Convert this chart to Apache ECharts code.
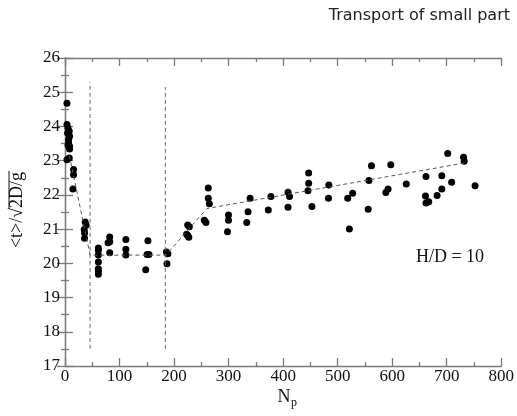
<!DOCTYPE html>
<html>
<head>
<meta charset="utf-8">
<script src="https://cdn.jsdelivr.net/npm/echarts@6/dist/echarts.min.js"></script>
<style>html,body{margin:0;padding:0;background:#fff}#c{width:517px;height:416px}</style>
</head>
<body>
<div id="c"></div>
<script>
// ---- data ----
const titleText = 'Transport of small part';
const annotation = 'H/D = 10';
const xTicks = [0, 100, 200, 300, 400, 500, 600, 700, 800];
const yTicks = [17, 18, 19, 20, 21, 22, 23, 24, 25, 26];
const pointsX = [
  3.6, 3.6, 7.8, 4.7, 8.4, 6.6, 6.6, 8.4, 8.4, 3.6, 7.8, 5.5, 5.5, 15.7, 15.7, 14.5,
  37, 38.8, 35.2, 36, 35.8,
  61.2, 61.2, 61.2, 61.2, 61.2, 61.2, 61.2,
  82, 79, 82, 82,
  111.6, 111.6, 111.6,
  152, 150.5, 154, 148,
  186, 188.7, 187,
  225, 228, 223, 225, 227,
  262.8, 262.8, 264.7, 255.5, 258.5,
  299.8, 299.8, 298,
  339.4, 335.7, 333.3,
  377.6, 372.8,
  409, 411.7, 409,
  446.8, 446.8, 445.5, 452.8,
  483.8, 483.2,
  518.4, 527.5, 521.5,
  562, 557.4, 556,
  597.4, 592.5, 588.3,
  625.8,
  662, 661, 662, 667, 682.3,
  691, 691, 701.8, 709,
  730.9, 732, 752
];
const pointsY = [
  24.68, 24.06, 23.86, 23.81, 23.71, 23.62, 23.52, 23.42, 23.34, 23.03, 23.08, 23.95, 23.45, 22.74, 22.59, 22.17,
  21.21, 21.12, 20.99, 20.89, 20.73,
  20.45, 20.38, 20.24, 20.04, 19.84, 19.77, 19.68,
  20.77, 20.60, 20.63, 20.31,
  20.70, 20.41, 20.24,
  20.66, 20.26, 20.26, 19.81,
  20.33, 20.28, 19.99,
  21.12, 21.07, 20.85, 20.82, 20.76,
  22.20, 21.90, 21.74, 21.26, 21.19,
  21.41, 21.26, 20.92,
  21.90, 21.51, 21.19,
  21.95, 21.56,
  22.08, 21.95, 21.64,
  22.64, 22.34, 22.12, 21.66,
  22.29, 21.90,
  21.90, 22.05, 21.00,
  22.85, 22.42, 21.58,
  22.88, 22.17, 22.07,
  22.32,
  22.54, 21.97, 21.76, 21.80, 21.98,
  22.56, 22.17, 23.21, 22.37,
  23.10, 22.98, 22.27
];
const trendX = [8, 46, 185, 260, 732];
const trendY = [23.15, 20.24, 20.24, 21.6, 22.93];
const vline1X = [46, 46];
const vline1Y = [17.5, 25.3];
const vline2X = [184, 184];
const vline2Y = [17.5, 25.15];

// ---- chart ----
const zip = (a, b) => a.map((v, i) => [v, b[i]]);
const serif = 'Liberation Serif';
const frame = '#7a7a7a';
const chart = echarts.init(document.getElementById('c'), null, {renderer: 'canvas'});

const baseX = {
  type: 'value', min: xTicks[0], max: xTicks[xTicks.length - 1], interval: 100,
  axisLine: {show: true, lineStyle: {color: frame, width: 1.3}},
  axisTick: {show: true, inside: true, length: 8, lineStyle: {color: frame, width: 1.3}},
  minorTick: {show: true, splitNumber: 2, length: 4, lineStyle: {color: frame, width: 1.3}},
  splitLine: {show: false}
};
const baseY = {
  type: 'value', min: yTicks[0], max: yTicks[yTicks.length - 1], interval: 1,
  axisLine: {show: true, lineStyle: {color: frame, width: 1.3}},
  axisTick: {show: true, inside: true, length: 8, lineStyle: {color: frame, width: 1.3}},
  minorTick: {show: true, splitNumber: 2, length: 4, lineStyle: {color: frame, width: 1.3}},
  splitLine: {show: false}
};

// measure y-label pieces
const ctx = document.createElement('canvas').getContext('2d');
const yFont = '18px "Liberation Serif"';
ctx.font = yFont;
const partA = '<t>/\u221A';
const partB = '2D/g';
const wA = ctx.measureText(partA).width;
const wB = ctx.measureText(partB).width;
const x0 = -(wA + wB) / 2;

chart.setOption({
  animation: false,
  textStyle: {fontFamily: serif},
  title: {
    text: titleText, right: 2, top: 3,
    textStyle: {fontFamily: 'DejaVu Sans', fontWeight: 'normal', fontSize: 16, color: '#222'}
  },
  grid: {left: 65, right: 13, top: 58, bottom: 50, containLabel: false},
  xAxis: [
    Object.assign({}, baseX, {
      position: 'bottom',
      axisLabel: {show: true, margin: 2, fontFamily: serif, fontSize: 17, color: '#111'}
    }),
    Object.assign({}, baseX, {position: 'top', axisLabel: {show: false}})
  ],
  yAxis: [
    Object.assign({}, baseY, {
      position: 'left',
      axisLabel: {show: true, margin: 5, fontFamily: serif, fontSize: 17, color: '#111'}
    }),
    Object.assign({}, baseY, {position: 'right', axisLabel: {show: false}})
  ],
  series: [
    {
      type: 'line', data: zip(vline1X, vline1Y), symbol: 'none', silent: true,
      lineStyle: {color: '#666', width: 1, type: [4, 3]}
    },
    {
      type: 'line', data: zip(vline2X, vline2Y), symbol: 'none', silent: true,
      lineStyle: {color: '#666', width: 1, type: [4, 3]}
    },
    {
      type: 'line', data: zip(trendX, trendY), symbol: 'none', silent: true,
      lineStyle: {color: '#555', width: 1, type: [4, 3]}
    },
    {
      type: 'scatter', data: zip(pointsX, pointsY), symbol: 'circle', symbolSize: 7,
      itemStyle: {color: '#000', opacity: 1}
    }
  ],
  graphic: [
    {
      type: 'group', x: 17, y: 210, rotation: Math.PI / 2,
      children: [
        {type: 'text', x: x0, y: 0, style: {text: partA, font: yFont, fill: '#111', textAlign: 'left', textVerticalAlign: 'middle'}},
        {type: 'text', x: x0 + wA, y: 0, style: {text: partB, font: yFont, fill: '#111', textAlign: 'left', textVerticalAlign: 'middle'}},
        {type: 'line', shape: {x1: x0 + wA - 1, y1: -8, x2: x0 + wA + wB + 1, y2: -8}, style: {stroke: '#111', lineWidth: 1}}
      ]
    },
    {type: 'text', x: 284, y: 397, style: {text: 'N', font: '18px "Liberation Serif"', fill: '#111', textAlign: 'center', textVerticalAlign: 'middle'}},
    {type: 'text', x: 294, y: 403, style: {text: 'p', font: '12px "Liberation Serif"', fill: '#111', textAlign: 'center', textVerticalAlign: 'middle'}},
    {type: 'text', x: 450, y: 257, style: {text: annotation, font: '18px "Liberation Serif"', fill: '#111', textAlign: 'center', textVerticalAlign: 'middle'}}
  ]
});
</script>
</body>
</html>
